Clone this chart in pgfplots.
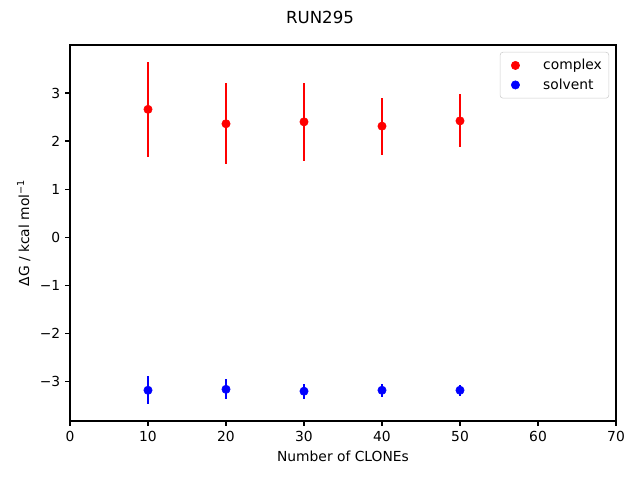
\documentclass[border=0pt]{standalone}
\usepackage{fontspec}
\setmainfont{DejaVu Sans}
\usepackage{pgfplots}
\pgfplotsset{compat=1.18}
\begin{document}
\begin{tikzpicture}
\useasboundingbox (-50.4bp,-42.48bp) rectangle (410.4bp,303.12bp);
\begin{axis}[
  at={(0,0)}, anchor=south west,
  scale only axis, width=393.12bp, height=270.72bp,
  xmin=0, xmax=70, ymin=-3.83, ymax=4.0,
  xtick={0,10,...,70}, ytick={-3,-2,-1,0,1,2,3},
  yticklabels={−3,−2,−1,0,1,2,3},
  tick align=outside, xtick pos=bottom, ytick pos=left,
  major tick length=3.5bp,
  tick style={black, line width=0.8bp},
  axis line style={line width=0.8bp},
  /pgf/number format/assume math mode=true,
  tick label style={font=\fontsize{10}{12}\selectfont},
  label style={font=\fontsize{10}{12}\selectfont},
  xlabel={Number of CLONEs}, ylabel={ΔG / kcal mol\textsuperscript{−1}},
  xlabel style={at={(axis description cs:0.5,0)}, anchor=north, yshift=-18bp},
  legend cell align=left,
  legend style={at={(1,1)}, anchor=north east, xshift=-5bp, yshift=-5bp,
    draw=black!20, rounded corners=2pt, fill=white,
    font=\fontsize{10}{12}\selectfont, row sep=1bp, inner xsep=3bp, inner ysep=3bp},
  legend image code/.code={\path[draw=none,fill=none] (0bp,-3bp) rectangle (26bp,3bp); \draw plot[only marks] coordinates {(8bp,0bp)};},
]
\addplot[only marks, mark=*, color=red, mark size=3bp,
  error bars/.cd, y dir=both, y explicit, error mark=none,
  error bar style={line width=1.5bp, red}]
  table[x=x, y=y, y error=e] {
x y e
10 2.66 0.99
20 2.36 0.84
30 2.40 0.81
40 2.31 0.595
50 2.42 0.55
};
\addlegendentry{complex}
\addplot[only marks, mark=*, color=blue, mark size=3bp,
  error bars/.cd, y dir=both, y explicit, error mark=none,
  error bar style={line width=1.5bp, blue}]
  table[x=x, y=y, y error=e] {
x y e
10 -3.19 0.29
20 -3.17 0.21
30 -3.21 0.155
40 -3.19 0.14
50 -3.19 0.12
};
\addlegendentry{solvent}
\end{axis}
\node[font=\fontsize{12}{14}\selectfont] at (180bp,290.9bp) {RUN295};
\end{tikzpicture}
\end{document}
